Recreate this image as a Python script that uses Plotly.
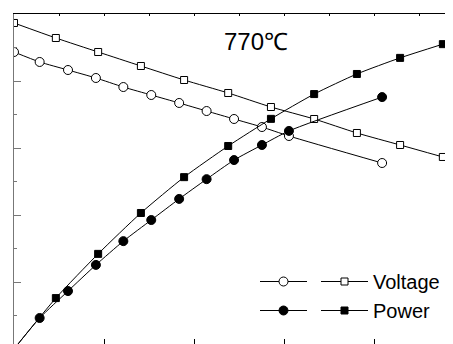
import plotly.graph_objects as go

# Current density (arbitrary units read from pixel positions)
x_sq = [0.0, 0.093, 0.187, 0.282, 0.378, 0.476, 0.571, 0.667, 0.762, 0.858, 0.953]
v_sq = [1.0866, 1.0642, 1.0433, 1.0224, 1.0015, 0.9821, 0.9612, 0.9433, 0.9224, 0.9045, 0.8866]
p_sq = [0.0, 0.152, 0.284, 0.406, 0.513, 0.606, 0.687, 0.761, 0.821, 0.869, 0.910]

x_ci = [0.0, 0.057, 0.12, 0.182, 0.243, 0.305, 0.367, 0.428, 0.489, 0.551, 0.611, 0.818]
v_ci = [1.0433, 1.0284, 1.0164, 1.0045, 0.991, 0.9791, 0.9672, 0.9552, 0.9433, 0.9313, 0.9179, 0.8776]
p_ci = [0.0, 0.0925, 0.173, 0.251, 0.322, 0.385, 0.448, 0.507, 0.564, 0.609, 0.651, 0.752]

title_text = "770℃"
names = ["Voltage", "Power"]

FONT = "Liberation Sans, Arial, sans-serif"

# page body has an 8px default margin; compensate so the plot area starts at (14,14)
OFF = 8
W, H = 453 - OFF, 344 - OFF
L, T = 14 - OFF, 14 - OFF
PW, PH = W - L, H - T  # plot area 439 x 330


def px(xp):
    return (xp - 14) / PW


def py(yp):
    return 1 - (yp - 14) / PH


fig = go.Figure()

line = dict(color="black", width=1, shape="spline", smoothing=0.6)

fig.add_trace(go.Scatter(x=x_ci, y=v_ci, mode="lines+markers", line=line,
                         marker=dict(symbol="circle", size=9, color="white", line=dict(color="black", width=1)),
                         name="", legend="legend", yaxis="y"))
fig.add_trace(go.Scatter(x=x_ci, y=p_ci, mode="lines+markers", line=line,
                         marker=dict(symbol="circle", size=9, color="black", line=dict(color="black", width=1)),
                         name=" ", legend="legend", yaxis="y2"))
fig.add_trace(go.Scatter(x=x_sq, y=v_sq, mode="lines+markers", line=line,
                         marker=dict(symbol="square", size=7, color="white", line=dict(color="black", width=1)),
                         name=names[0], legend="legend2", yaxis="y"))
fig.add_trace(go.Scatter(x=x_sq, y=p_sq, mode="lines+markers", line=line,
                         marker=dict(symbol="square", size=7, color="black", line=dict(color="black", width=1)),
                         name=names[1], legend="legend2", yaxis="y2"))
# top axis carrier
fig.add_trace(go.Scatter(x=[0], y=[None], xaxis="x2", showlegend=False, hoverinfo="skip"))

fig.update_layout(
    width=W, height=H,
    margin=dict(l=L, r=0, t=T, b=0, autoexpand=False),
    paper_bgcolor="white", plot_bgcolor="white",
    font=dict(family=FONT, color="black"),
    xaxis=dict(range=[0, PW / 450], showline=False, showgrid=False, zeroline=False,
               ticks="inside", ticklen=5, tickcolor="black", dtick=0.2, tick0=0,
               showticklabels=False),
    xaxis2=dict(range=[0, PW / 450], overlaying="x", side="top", showline=True, linecolor="black",
                linewidth=1, showgrid=False, zeroline=False, ticks="inside", ticklen=2,
                tickcolor="black", dtick=0.1, tick0=0, showticklabels=False),
    yaxis=dict(range=[1.1 - PH / 670, 1.1], showline=True, linecolor="#777", linewidth=1,
               showgrid=False, zeroline=False, ticks="inside", ticklen=7, tickcolor="#777",
               dtick=0.1, tick0=0, showticklabels=False,
               minor=dict(ticks="inside", ticklen=3, tickcolor="#777", dtick=0.05, showgrid=False)),
    yaxis2=dict(range=[5 / 335, 1.0], overlaying="y", side="right", showline=False, showgrid=False,
                zeroline=False, ticks="", showticklabels=False),
    legend=dict(x=px(255), y=py(262), xanchor="left", yanchor="top",
                bgcolor="rgba(0,0,0,0)", font=dict(size=20, family=FONT), itemwidth=47,
                tracegroupgap=0),
    legend2=dict(x=px(316), y=py(262), xanchor="left", yanchor="top",
                 bgcolor="rgba(0,0,0,0)", font=dict(size=20, family=FONT), itemwidth=47,
                 tracegroupgap=0),
    annotations=[dict(text=title_text, x=px(256), y=py(26),
                      xref="paper", yref="paper", showarrow=False,
                      font=dict(size=24, family=FONT, color="black"))],
)

fig.write_html("out.html")
